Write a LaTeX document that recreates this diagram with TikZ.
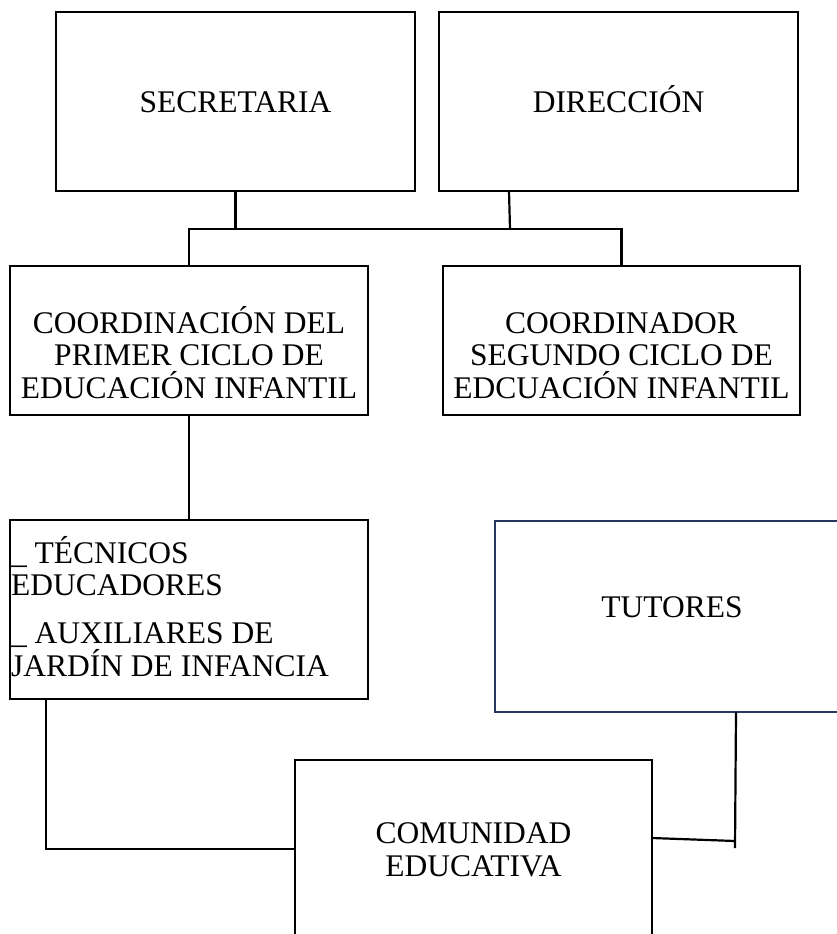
\documentclass[tikz,border=0pt]{standalone}
\usepackage{fontspec}
\setmainfont{Liberation Serif}
\definecolor{tutorblue}{RGB}{37,55,94}
\begin{document}
\begin{tikzpicture}[x=1pt, y=-1pt, line width=2.2pt,
        every node/.style={font=\fontsize{31.5}{32.5}\selectfont},
        box/.style={draw, rectangle, inner sep=0pt, outer sep=0pt},
        txt/.style={inner sep=0pt, anchor=base}]
        \useasboundingbox (0,0) rectangle (837,934);

        % Secretaria y direccion
        \node[box, minimum width=359, minimum height=179, text height=21pt, text depth=0pt] (sec) at (235.5,101.5) {SECRETARIA};
        \node[box, minimum width=359, minimum height=179, text height=21pt, text depth=0pt] (dir) at (618.5,101.5) {DIRECCIÓN};

        % Coordinadores (base = ultima linea)
        \node[box, minimum width=358, minimum height=149] (c1) at (189,340.5) {};
        \node[box, minimum width=357, minimum height=149] (c2) at (621.5,340.5) {};
        \node[txt, align=center] (c1txt) at (189,398) {COORDINACIÓN DEL\\PRIMER CICLO DE\\EDUCACIÓN INFANTIL};
        \node[txt, align=center] (c2txt) at (621.5,398) {COORDINADOR\\SEGUNDO CICLO DE\\EDCUACIÓN INFANTIL};

        % Personal
        \node[box, minimum width=358, minimum height=179] (tec) at (189,609.5) {};
        \node[txt, anchor=base west, align=left] (tectxt) at (10,676) {\_ TÉCNICOS\\EDUCADORES\\[15.5pt]\_ AUXILIARES DE\\JARDÍN DE INFANCIA};
        \node[box, draw=tutorblue, minimum width=344, minimum height=191] (tut) at (667,616.5) {};
        \node[txt] (tuttxt) at (672,617) {TUTORES};

        % Comunidad
        \node[box, minimum width=357, minimum height=178] (com) at (473.5,849) {};
        \node[txt, align=center] (comtxt) at (473.5,876) {COMUNIDAD\\EDUCATIVA};

        % Conectores
        \coordinate (bar) at (0,229);
        \coordinate (dirfoot) at (509,191);
        \coordinate (dirbar) at (510,229);
        \draw (sec.south) -- (sec.south |- bar);
        \draw (dirfoot) -- (dirbar);
        \draw (c1.north) -- (c1.north |- bar) -- (c2.north |- bar) -- (c2.north);
        \draw (c1.south) -- (tec.north);
        \coordinate (tecfoot) at (46,699);
        \draw (tecfoot) |- (com.west);
        \coordinate (tutfoot) at (736,712);
        \coordinate (tutend) at (735,848);
        \coordinate (tutjoin) at (735,841);
        \draw (tutfoot) -- (tutend);
        \draw ([yshift=11pt]com.east) -- (tutjoin);
    \end{tikzpicture}
\end{document}
